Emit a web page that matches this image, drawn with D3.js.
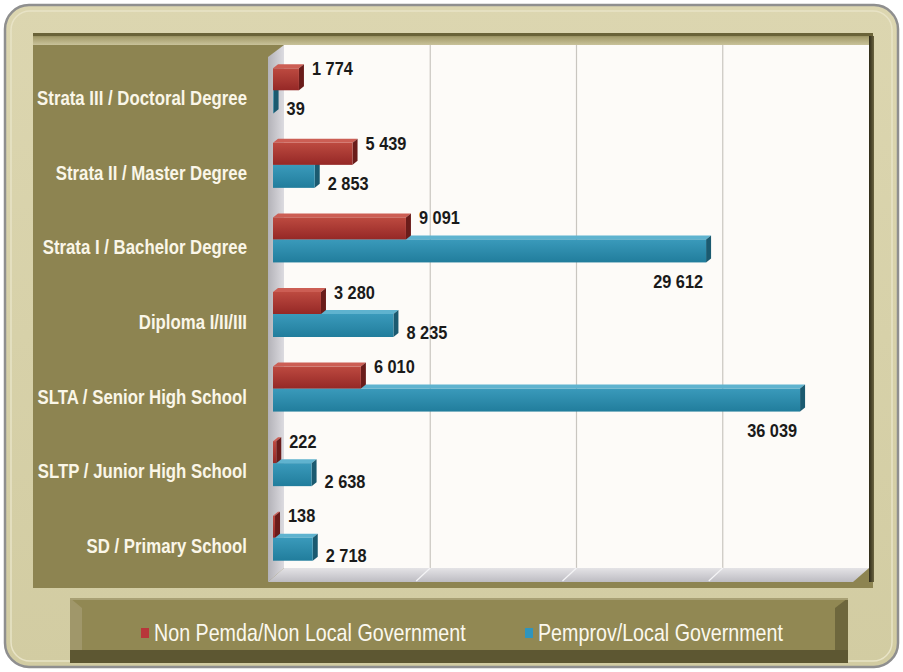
<!DOCTYPE html>
<html>
<head>
<meta charset="utf-8">
<script src="https://cdn.jsdelivr.net/npm/d3@7"></script>
<style>
  html, body { margin: 0; padding: 0; background: #ffffff; }
  svg { display: block; }
</style>
</head>
<body>
<div id="chart"></div>
<script>
// data
var categories = [
  "Strata III / Doctoral Degree",
  "Strata II / Master Degree",
  "Strata I / Bachelor Degree",
  "Diploma I/II/III",
  "SLTA / Senior High School",
  "SLTP / Junior High School",
  "SD / Primary School"
];
var nonPemda = [1774, 5439, 9091, 3280, 6010, 222, 138];
var pemprov = [39, 2853, 29612, 8235, 36039, 2638, 2718];
var seriesNames = ["Non Pemda/Non Local Government", "Pemprov/Local Government"];
var gridTicks = [10000, 20000, 30000];

var W = 903, H = 672;
var dx = 5, dy = 4;          // bar depth
var wallDx = 11, wallDy = 12; // back wall offset
var FONT = "'Liberation Sans', Arial, sans-serif";

var svg = d3.select("#chart").append("svg")
  .attr("width", W)
  .attr("height", H);

var defs = svg.append("defs");
function vGrad(id, stops) {
  var g = defs.append("linearGradient").attr("id", id)
    .attr("x1", 0).attr("y1", 0).attr("x2", 0).attr("y2", 1);
  stops.forEach(function(s) { g.append("stop").attr("offset", s[0]).attr("stop-color", s[1]); });
}
function hGrad(id, stops) {
  var g = defs.append("linearGradient").attr("id", id)
    .attr("x1", 0).attr("y1", 0).attr("x2", 1).attr("y2", 0);
  stops.forEach(function(s) { g.append("stop").attr("offset", s[0]).attr("stop-color", s[1]); });
}
vGrad("redFront", [[0, "#bd4a40"], [1, "#952826"]]);
vGrad("tealFront", [[0, "#3a9abb"], [1, "#217d9c"]]);
vGrad("frame", [[0, "#dcd6b0"], [1, "#d2cca2"]]);
vGrad("floor", [[0, "#e4e3e6"], [1, "#bdbcc2"]]);
hGrad("wall", [[0, "#b3b2b8"], [1, "#dcdbe0"]]);
hGrad("rightEdge", [[0, "#2e2a18"], [1, "#6b6440"]]);
vGrad("topStrip", [[0, "#6f683c"], [0.35, "#a59d6c"], [1, "#c9c29a"]]);

// narrow text helper: scale glyphs horizontally (no condensed font available)
function narrow(sel, sx) {
  sel.attr("transform", function() {
    var t = d3.select(this);
    return "translate(" + t.attr("x") + "," + t.attr("y") + ") scale(" + sx + ",1)";
  }).attr("x", 0).attr("y", 0);
}

// outer frame
svg.append("rect")
  .attr("x", 5).attr("y", 5).attr("width", 893).attr("height", 662)
  .attr("rx", 24).attr("ry", 24)
  .attr("fill", "url(#frame)")
  .attr("stroke", "#8f8f8f").attr("stroke-width", 2.5);
svg.append("rect")
  .attr("x", 11).attr("y", 11).attr("width", 881).attr("height", 650)
  .attr("rx", 19).attr("ry", 19)
  .attr("fill", "none")
  .attr("stroke", "#e8e3c6").attr("stroke-width", 1.5);

// chart panel (olive)
svg.append("rect")
  .attr("x", 33).attr("y", 33).attr("width", 840).attr("height", 555)
  .attr("fill", "#8d8451");
svg.append("rect")
  .attr("x", 33).attr("y", 33).attr("width", 840).attr("height", 12)
  .attr("fill", "url(#topStrip)");
svg.append("rect")
  .attr("x", 33).attr("y", 33).attr("width", 840).attr("height", 3)
  .attr("fill", "#6a6338");

// scales
var x = d3.scaleLinear().domain([0, 40000]).range([273, 858]);
var y = d3.scaleBand().domain(categories).range([61, 583]);

var plotTop = 45, floorY = 580;

// back wall
svg.append("rect")
  .attr("x", x(0) + wallDx).attr("y", plotTop)
  .attr("width", x(40000) - x(0)).attr("height", floorY - wallDy - plotTop)
  .attr("fill", "#fdfbf8");

// right dark edge
svg.append("rect")
  .attr("x", x(40000) + wallDx).attr("y", 36)
  .attr("width", 5).attr("height", floorY + 2 - 36)
  .attr("fill", "url(#rightEdge)");

// left wall
svg.append("polygon")
  .attr("points", [[x(0) - 5, plotTop + wallDy], [x(0) + wallDx, plotTop],
                   [x(0) + wallDx, floorY - wallDy], [x(0) - 5, floorY + 2]].join(" "))
  .attr("fill", "url(#wall)");

// floor
svg.append("polygon")
  .attr("points", [[x(0) - 5, floorY + 2], [x(0) + wallDx, floorY - wallDy],
                   [x(40000) + wallDx, floorY - wallDy], [x(40000) - 5, floorY + 2]].join(" "))
  .attr("fill", "url(#floor)");

// gridlines on back wall and floor
var grid = svg.append("g");
grid.selectAll("line.gv").data(gridTicks).enter().append("line")
  .attr("class", "gv")
  .attr("x1", function(d) { return x(d) + wallDx; })
  .attr("x2", function(d) { return x(d) + wallDx; })
  .attr("y1", plotTop).attr("y2", floorY - wallDy)
  .attr("stroke", "#c9c6c0").attr("stroke-width", 1.2);
grid.selectAll("line.gf").data(gridTicks).enter().append("line")
  .attr("class", "gf")
  .attr("x1", function(d) { return x(d) + wallDx; })
  .attr("x2", function(d) { return x(d) - 3; })
  .attr("y1", floorY - wallDy).attr("y2", floorY + 1)
  .attr("stroke", "#f4f4f6").attr("stroke-width", 1.2);

// category labels
svg.append("g").selectAll("text")
  .data(categories).enter().append("text")
  .attr("x", 247)
  .attr("y", function(d) { return y(d) + y.bandwidth() / 2; })
  .attr("dy", "0.35em")
  .attr("text-anchor", "end")
  .attr("font-family", FONT)
  .attr("font-weight", "bold")
  .attr("font-size", 20)
  .attr("fill", "#faf6e8")
  .text(function(d) { return d; })
  .call(narrow, 0.84);

// 3D bars
function bar3d(g, x1, yTop, h, front, top, side) {
  var x0 = x(0);
  g.append("polygon")
    .attr("points", [[x0, yTop], [x0 + dx, yTop - dy], [x1 + dx, yTop - dy], [x1, yTop]].join(" "))
    .attr("fill", top);
  g.append("polygon")
    .attr("points", [[x1, yTop], [x1 + dx, yTop - dy], [x1 + dx, yTop + h - dy], [x1, yTop + h]].join(" "))
    .attr("fill", side);
  g.append("rect")
    .attr("x", x0).attr("y", yTop)
    .attr("width", Math.max(0, x1 - x0)).attr("height", h)
    .attr("fill", front);
}

var fmt = d3.formatLocale({ decimal: ",", thousands: " ", grouping: [3], currency: ["", ""] }).format(",d");
var barH = 22;
var bars = svg.append("g");
var labels = svg.append("g")
  .attr("font-family", FONT)
  .attr("font-weight", "bold")
  .attr("font-size", 19)
  .attr("fill", "#1a1a1a");

categories.forEach(function(c, i) {
  var mid = y(c) + y.bandwidth() / 2 - 8;
  // teal first (lower bar), then red over it
  bar3d(bars, x(pemprov[i]), mid, barH + 1, "url(#tealFront)", "#5fb3cf", "#1b5a70");
  bar3d(bars, x(nonPemda[i]), mid - barH, barH, "url(#redFront)", "#cc5e54", "#6a1c1a");

  labels.append("text")
    .attr("x", x(nonPemda[i]) + 13)
    .attr("y", mid - barH)
    .attr("dy", "0.35em")
    .text(fmt(nonPemda[i]))
    .call(narrow, 0.86);

  var big = pemprov[i] > 20000;
  labels.append("text")
    .attr("x", big ? x(pemprov[i]) - 3 : x(pemprov[i]) + 13)
    .attr("y", big ? mid + barH + 20 : mid + barH - 4)
    .attr("dy", "0.35em")
    .attr("text-anchor", big ? "end" : "start")
    .text(fmt(pemprov[i]))
    .call(narrow, 0.86);
});

// legend box
var lg = svg.append("g");
lg.append("rect").attr("x", 70).attr("y", 598).attr("width", 778).attr("height", 65).attr("fill", "#5d5732");
lg.append("rect").attr("x", 70).attr("y", 598).attr("width", 778).attr("height", 52).attr("fill", "#918853");
lg.append("polygon").attr("points", "70,598 82,608 82,650 70,650").attr("fill", "#a0976a");
lg.append("polygon").attr("points", "835,608 848,598 848,650 835,650").attr("fill", "#6e673d");
lg.append("rect").attr("x", 70).attr("y", 598).attr("width", 778).attr("height", 2).attr("fill", "#a8a074");

var legendColors = ["#b8363a", "#2f95bd"];
var legendX = [141, 525];
var li = lg.selectAll("g.item").data(seriesNames).enter().append("g").attr("class", "item");
li.append("rect")
  .attr("x", function(d, i) { return legendX[i]; })
  .attr("y", 628).attr("width", 8).attr("height", 10)
  .attr("fill", function(d, i) { return legendColors[i]; });
li.append("text")
  .attr("x", function(d, i) { return legendX[i] + 13; })
  .attr("y", 633)
  .attr("dy", "0.35em")
  .attr("font-family", FONT)
  .attr("font-size", 24)
  .attr("fill", "#fbf8ee")
  .text(function(d) { return d; })
  .call(narrow, 0.82);
</script>
</body>
</html>
